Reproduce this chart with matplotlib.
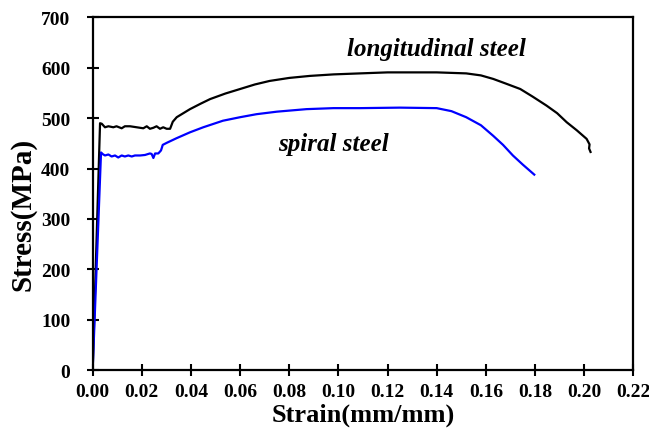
import matplotlib
matplotlib.use("Agg")
import matplotlib.pyplot as plt

# Stress-strain curves for the two steel types
long_strain = [0.0, 0.0030, 0.0037, 0.0050, 0.0064, 0.0084, 0.0097, 0.0118, 0.0131, 0.0152,
               0.0179, 0.0206, 0.0220, 0.0233, 0.0247, 0.0260, 0.0274, 0.0287, 0.0301,
               0.0315, 0.0319, 0.0326, 0.0342, 0.0396, 0.044, 0.0478, 0.054, 0.060,
               0.066, 0.072, 0.080, 0.0884, 0.098, 0.1088, 0.120, 0.130, 0.140, 0.152,
               0.158, 0.163, 0.168, 0.174, 0.179, 0.1847, 0.189, 0.1929, 0.197, 0.201,
               0.2022, 0.2020, 0.2026]
long_stress = [0, 490, 489, 482, 484, 482, 484, 480, 484, 484,
               482, 480, 484, 479, 481, 484, 479, 482, 479,
               479, 484, 493, 502, 518, 529, 538, 549, 558,
               567, 574, 580, 584, 587, 589, 591, 591, 591, 589,
               585, 578, 569, 558, 543, 525, 510, 492, 476, 459,
               448, 440, 433]

spiral_strain = [0.0, 0.0034, 0.0040, 0.0050, 0.0064, 0.0077, 0.0091, 0.0104, 0.0118, 0.0131,
                 0.0145, 0.0159, 0.0172, 0.0193, 0.0213, 0.0226, 0.0233, 0.0240, 0.0247,
                 0.0254, 0.0267, 0.0278, 0.0282, 0.0285, 0.0301, 0.034, 0.0396, 0.045,
                 0.053, 0.060, 0.0667, 0.075, 0.087, 0.098, 0.1088, 0.125, 0.140, 0.146,
                 0.152, 0.158, 0.163, 0.167, 0.171, 0.175, 0.1797]
spiral_stress = [0, 432, 429, 426, 428, 424, 426, 422, 426, 424,
                 426, 424, 426, 426, 427, 429, 430, 429, 421,
                 430, 430, 436, 442, 447, 451, 460, 472, 482,
                 495, 502, 508, 513, 518, 520, 520, 521, 520, 514,
                 502, 486, 465, 447, 426, 408, 388]

x_ticks = [0.00, 0.02, 0.04, 0.06, 0.08, 0.10, 0.12, 0.14, 0.16, 0.18, 0.20, 0.22]
y_ticks = [0, 100, 200, 300, 400, 500, 600, 700]

plt.rcParams["font.family"] = "Liberation Serif"
plt.rcParams["font.weight"] = "bold"

fig = plt.figure(figsize=(6.49, 4.35), dpi=100)
ax = fig.add_axes([0.1428, 0.1471, 0.8330, 0.8104])

ax.plot(long_strain, long_stress, color="black", lw=1.6)
ax.plot(spiral_strain, spiral_stress, color="#0000ff", lw=1.6)

ax.text(0.140, 638, "longitudinal steel", fontsize=18, fontweight="bold",
        style="italic", ha="center", va="center")
ax.text(0.0982, 449, "spiral steel", fontsize=18, fontweight="bold",
        style="italic", ha="center", va="center")

ax.set_xlim(0, 0.22)
ax.set_ylim(0, 700)
ax.set_xticks(x_ticks)
ax.set_xticklabels([f"{t:.2f}" for t in x_ticks])
ax.set_yticks(y_ticks)
ax.tick_params(direction="inout", length=8, width=1.5, labelsize=14)
ax.tick_params(axis="x", pad=5)
ax.tick_params(axis="y", pad=12)
for s in ax.spines.values():
    s.set_linewidth(1.6)

ax.set_xlabel("Strain(mm/mm)", fontsize=19, fontweight="bold", labelpad=2)
ax.set_ylabel("Stress(MPa)", fontsize=21, fontweight="bold", va="center")
ax.yaxis.set_label_coords(-0.129, 0.443)

fig.savefig("out.png", dpi=100)
